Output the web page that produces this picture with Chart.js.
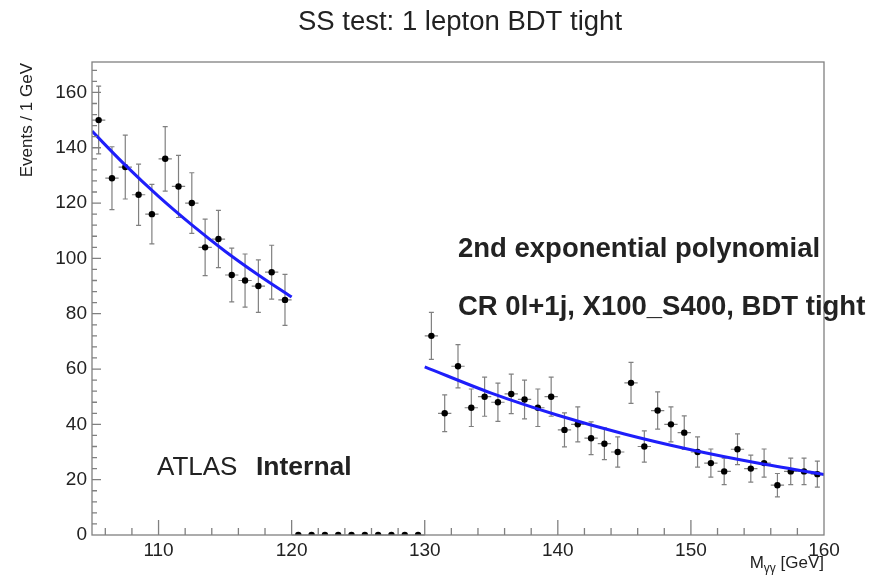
<!DOCTYPE html>
<html>
<head>
<meta charset="utf-8">
<script src="https://cdn.jsdelivr.net/npm/chart.js@4"></script>
<style>
  html, body { margin: 0; padding: 0; background: #fff; }
  #wrap { width: 871px; height: 577px; }
</style>
</head>
<body>
<div id="wrap"><canvas id="fitChart" width="871" height="577"></canvas></div>
<script>
// bin centres (1 GeV bins) and events per bin
const binCenters = [
  105.5, 106.5, 107.5, 108.5, 109.5, 110.5, 111.5, 112.5, 113.5, 114.5,
  115.5, 116.5, 117.5, 118.5, 119.5, 120.5, 121.5, 122.5, 123.5, 124.5,
  125.5, 126.5, 127.5, 128.5, 129.5, 130.5, 131.5, 132.5, 133.5, 134.5,
  135.5, 136.5, 137.5, 138.5, 139.5, 140.5, 141.5, 142.5, 143.5, 144.5,
  145.5, 146.5, 147.5, 148.5, 149.5, 150.5, 151.5, 152.5, 153.5, 154.5,
  155.5, 156.5, 157.5, 158.5, 159.5
];
const events = [
  150, 129, 133, 123, 116, 136, 126, 120, 104, 107,
  94, 92, 90, 95, 85, 0, 0, 0, 0, 0,
  0, 0, 0, 0, 0, 72, 44, 61, 46, 50,
  48, 51, 49, 46, 50, 38, 40, 35, 33, 30,
  55, 32, 45, 40, 37, 30, 26, 23, 31, 24,
  26, 18, 23, 23, 22
];

// fitted curves (sidebands)
const fitLowX = [105, 107.5, 110, 112.5, 115, 117.5, 120];
const fitLowY = [146, 133.7, 122.4, 112.1, 102.6, 94.0, 86];
const fitHighX = [130, 135, 140, 145, 150, 155, 160];
const fitHighY = [60.8, 51.3, 43.3, 36.5, 30.8, 26.0, 21.9];

const xTickLabels = [110, 120, 130, 140, 150, 160];
const yTickLabels = [0, 20, 40, 60, 80, 100, 120, 140, 160];

const points = binCenters.map((x, i) => ({ x: x, y: events[i] }));
const fitLow = fitLowX.map((x, i) => ({ x: x, y: fitLowY[i] }));
const fitHigh = fitHighX.map((x, i) => ({ x: x, y: fitHighY[i] }));

const FONT = '"Liberation Sans", Arial, Helvetica, sans-serif';
const TEXT = '#222';

// error bars (sqrt N) and bin-width bars, under the markers
const errorBars = {
  id: 'errorBars',
  beforeDatasetsDraw(chart) {
    const xs = chart.scales.x, ys = chart.scales.y;
    const c = chart.ctx;
    c.save();
    c.strokeStyle = '#808080';
    c.lineWidth = 1.2;
    points.forEach(p => {
      const err = Math.sqrt(p.y);
      const px = xs.getPixelForValue(p.x);
      const py = ys.getPixelForValue(p.y);
      const x0 = xs.getPixelForValue(p.x - 0.5);
      const x1 = xs.getPixelForValue(p.x + 0.5);
      c.beginPath();
      c.moveTo(x0, py); c.lineTo(x1, py);
      if (err > 0) {
        const yt = ys.getPixelForValue(p.y + err);
        const yb = ys.getPixelForValue(p.y - err);
        c.moveTo(px, yt); c.lineTo(px, yb);
        c.moveTo(px - 2.5, yt); c.lineTo(px + 2.5, yt);
        c.moveTo(px - 2.5, yb); c.lineTo(px + 2.5, yb);
      }
      c.stroke();
    });
    c.restore();
  }
};

// ROOT-style frame, inward ticks and the text
const frameAndText = {
  id: 'frameAndText',
  afterDraw(chart) {
    const xs = chart.scales.x, ys = chart.scales.y;
    const a = chart.chartArea;
    const c = chart.ctx;
    c.save();
    c.strokeStyle = '#808080';
    c.lineWidth = 1.3;
    c.strokeRect(a.left, a.top, a.right - a.left, a.bottom - a.top);

    c.beginPath();
    for (let v = 106; v < 160; v += 2) {
      const major = v % 10 === 0;
      const px = xs.getPixelForValue(v);
      c.moveTo(px, a.bottom);
      c.lineTo(px, a.bottom - (major ? 15 : 7));
    }
    for (let v = 4; v < 171; v += 4) {
      const major = v % 20 === 0;
      const py = ys.getPixelForValue(v);
      c.moveTo(a.left, py);
      c.lineTo(a.left + (major ? 9 : 5), py);
    }
    c.stroke();

    c.fillStyle = TEXT;
    c.textBaseline = 'alphabetic';

    // title
    c.font = '27.5px ' + FONT;
    c.textAlign = 'center';
    c.fillText('SS test: 1 lepton BDT tight', 460, 30);

    // annotations
    c.textAlign = 'left';
    c.font = 'bold 27.5px ' + FONT;
    c.fillText('2nd exponential polynomial', 458, 257);
    c.fillText('CR 0l+1j, X100_S400, BDT tight', 458, 315);

    c.font = '26px ' + FONT;
    c.fillText('ATLAS', 157, 475);
    c.font = 'bold 26.5px ' + FONT;
    c.fillText('Internal', 256, 475);

    // y title
    c.save();
    c.translate(27, 63);
    c.rotate(-Math.PI / 2);
    c.textAlign = 'right';
    c.textBaseline = 'middle';
    c.font = '17px ' + FONT;
    c.fillText('Events / 1 GeV', 0, 0);
    c.restore();

    // x title, right aligned to the frame
    c.font = '17px ' + FONT;
    const tail = ' [GeV]';
    const wTail = c.measureText(tail).width;
    c.font = '12px ' + FONT;
    const wSub = c.measureText('\u03b3\u03b3').width;
    c.font = '17px ' + FONT;
    const wM = c.measureText('M').width;
    let x = a.right - wTail - wSub - wM;
    c.fillText('M', x, 568);
    c.font = '12px ' + FONT;
    c.fillText('\u03b3\u03b3', x + wM, 572);
    c.font = '17px ' + FONT;
    c.fillText(tail, x + wM + wSub, 568);
    c.restore();
  }
};

new Chart(document.getElementById('fitChart'), {
  type: 'scatter',
  data: {
    datasets: [
      {
        type: 'line',
        data: fitLow,
        borderColor: 'rgb(30, 30, 250)',
        borderWidth: 3,
        pointRadius: 0,
        cubicInterpolationMode: 'monotone',
        fill: false
      },
      {
        type: 'line',
        data: fitHigh,
        borderColor: 'rgb(30, 30, 250)',
        borderWidth: 3,
        pointRadius: 0,
        cubicInterpolationMode: 'monotone',
        fill: false
      },
      {
        data: points,
        pointRadius: 3.2,
        pointBackgroundColor: '#000',
        pointBorderColor: '#000',
        pointBorderWidth: 0
      }
    ]
  },
  options: {
    responsive: false,
    animation: false,
    events: [],
    layout: { padding: { top: 62, right: 47, left: 0, bottom: 0 } },
    plugins: {
      legend: { display: false },
      tooltip: { enabled: false }
    },
    scales: {
      x: {
        type: 'linear',
        min: 105,
        max: 160,
        afterBuildTicks: s => { s.ticks = xTickLabels.map(v => ({ value: v })); },
        afterFit: s => { s.height = 42; },
        grid: { display: false, drawTicks: false },
        border: { display: false },
        ticks: {
          autoSkip: false,
          maxRotation: 0,
          padding: 4,
          color: TEXT,
          font: { family: FONT, size: 19 }
        }
      },
      y: {
        min: 0,
        max: 171,
        afterBuildTicks: s => { s.ticks = yTickLabels.map(v => ({ value: v })); },
        afterFit: s => { s.width = 92; },
        grid: { display: false, drawTicks: false },
        border: { display: false },
        ticks: {
          autoSkip: false,
          padding: 5,
          color: TEXT,
          font: { family: FONT, size: 19 }
        }
      }
    }
  },
  plugins: [errorBars, frameAndText]
});
</script>
</body>
</html>
